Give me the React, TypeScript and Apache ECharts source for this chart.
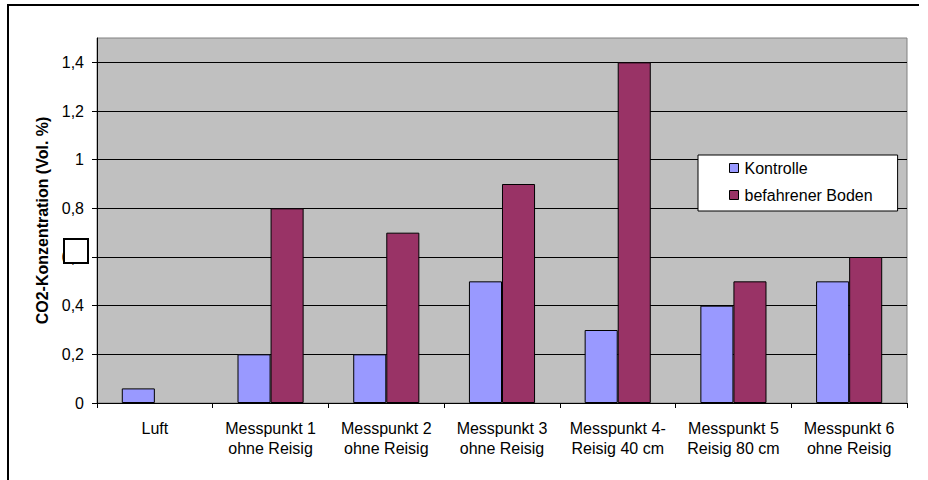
import React, { useEffect, useRef } from "react";
import * as echarts from "echarts";

const categories = [
  "Luft",
  "Messpunkt 1\nohne Reisig",
  "Messpunkt 2\nohne Reisig",
  "Messpunkt 3\nohne Reisig",
  "Messpunkt 4-\nReisig 40 cm",
  "Messpunkt 5\nReisig 80 cm",
  "Messpunkt 6\nohne Reisig",
];
const kontrolle = [0.06, 0.2, 0.2, 0.5, 0.3, 0.4, 0.5];
const befahren = [null, 0.8, 0.7, 0.9, 1.4, 0.5, 0.6];
const yTicks = [0, 0.2, 0.4, 0.6, 0.8, 1, 1.2, 1.4];
const yMax = 1.5;
const seriesNames = ["Kontrolle", "befahrener Boden"];
const yAxisName = "CO2-Konzentration (Vol. %)";

const FONT = "'Liberation Sans', Arial, sans-serif";

export default function App() {
  const ref = useRef<HTMLDivElement>(null);
  useEffect(() => {
    if (!ref.current) return;
    const chart = echarts.init(ref.current, null, { renderer: "svg" });
    const fmt = (v: number) => String(v).replace(".", ",");
    chart.setOption({
      animation: false,
      backgroundColor: "#ffffff",
      textStyle: { fontFamily: FONT },
      grid: {
        left: 97,
        top: 38,
        right: 21,
        bottom: 77,
        show: true,
        backgroundColor: "#C0C0C0",
        borderColor: "#808080",
        borderWidth: 1,
      },
      legend: {
        orient: "vertical",
        left: 698,
        top: 155,
        padding: [5, 25, 8, 31],
        itemWidth: 9,
        itemHeight: 9,
        itemGap: 11,
        backgroundColor: "#ffffff",
        borderColor: "#000000",
        borderWidth: 1,
        icon: "rect",
        itemStyle: { borderColor: "#000", borderWidth: 1 },
        textStyle: { fontFamily: FONT, fontSize: 16, lineHeight: 16, color: "#000", padding: [0, 0, 0, 1] },
        data: seriesNames,
      },
      xAxis: {
        type: "category",
        data: categories,
        axisLine: { lineStyle: { color: "#000", width: 1 } },
        axisTick: { show: true, length: 5, lineStyle: { color: "#000" } },
        axisLabel: {
          interval: 0,
          margin: 15,
          color: "#000",
          fontFamily: FONT,
          fontSize: 16,
          lineHeight: 20,
        },
      },
      yAxis: {
        type: "value",
        min: 0,
        max: yMax,
        interval: 0.1,
        name: yAxisName,
        nameLocation: "middle",
        nameGap: 45,
        nameTextStyle: { fontFamily: FONT, fontSize: 16, fontWeight: "bold", color: "#000" },
        axisLine: { show: true, lineStyle: { color: "#000", width: 1 } },
        axisTick: { show: true, length: 5, lineStyle: { color: "#000" }, customValues: yTicks },
        axisLabel: {
          customValues: yTicks,
          margin: 13,
          color: "#000",
          fontFamily: FONT,
          fontSize: 16,
          formatter: (v: number) => fmt(v),
        },
        splitLine: { show: false },
      },
      series: [
        {
          name: seriesNames[0],
          type: "bar",
          data: kontrolle,
          barGap: "0%",
          barCategoryGap: "42.857%",
          itemStyle: { color: "#9999FF", borderColor: "#000", borderWidth: 1 },
          markLine: {
            silent: true,
            symbol: "none",
            label: { show: false },
            lineStyle: { color: "#000", type: "solid", width: 1 },
            data: yTicks.filter((t) => t > 0).map((t) => ({ yAxis: t })),
            z: 1,
          },
        },
        {
          name: seriesNames[1],
          type: "bar",
          data: befahren,
          barGap: "0%",
          barCategoryGap: "42.857%",
          itemStyle: { color: "#993366", borderColor: "#000", borderWidth: 1 },
        },
      ],
      graphic: [
        {
          type: "polyline",
          shape: { points: [[8, 480], [8, 5], [919, 5]] },
          style: { stroke: "#000", lineWidth: 2, fill: "none" },
          z: 100,
        },
        {
          type: "rect",
          shape: { x: 64, y: 239, width: 24, height: 24 },
          style: { fill: "#ffffff", stroke: "#000", lineWidth: 2 },
          z: 100,
        },
      ],
    });
    return () => chart.dispose();
  }, []);
  return (
    <div
      ref={ref}
      style={{ position: "fixed", left: 0, top: 0, width: 928, height: 480 }}
    />
  );
}
